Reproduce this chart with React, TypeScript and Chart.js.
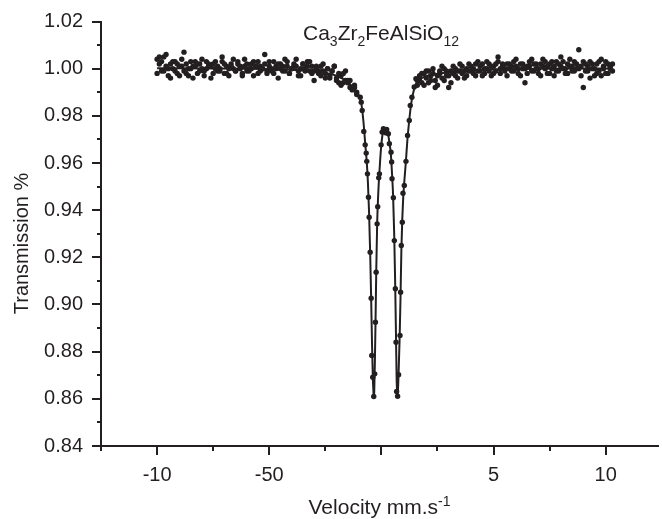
import React, { useEffect, useRef } from 'react';
import { Chart, registerables } from 'chart.js';

Chart.register(...registerables);

const INK = '#231f20';
const FONT = '"Liberation Sans", Arial, Helvetica, sans-serif';

// ---- axis ticks ----
const xMajorTicks = [-10, -5, 0, 5, 10];
const xTickLabels = ['-10', '-50', '', '5', '10'];
const xMinorTicks = [-12.5, -7.5, -2.5, 2.5, 7.5];
const yMajorTicks = [0.84, 0.86, 0.88, 0.9, 0.92, 0.94, 0.96, 0.98, 1.0, 1.02];
const yMinorTicks = [0.85, 0.87, 0.89, 0.91, 0.93, 0.95, 0.97, 0.99, 1.01];

// ---- text ----
const titleParts: [string, number, number][] = [
  ['Ca', 21, 0], ['3', 14, 6], ['Zr', 21, 0], ['2', 14, 6], ['FeAlSiO', 21, 0], ['12', 14, 6],
];
const xTitleParts: [string, number, number][] = [['Velocity mm.s', 21, 0], ['-1', 14, -8]];
const yTitle = 'Transmission %';

// ---- measured points: baseline, left of the doublet ----
const baseVelocityLeft = [
  -10.0, -9.9, -9.8, -9.7, -9.6, -9.5, -9.4, -9.3, -9.2, -9.1,
  -9.0, -8.9, -8.8, -8.7, -8.6, -8.5, -8.4, -8.3, -8.2, -8.1,
  -8.0, -7.9, -7.8, -7.7, -7.6, -7.5, -7.4, -7.3, -7.2, -7.1,
  -7.0, -6.9, -6.8, -6.7, -6.6, -6.5, -6.4, -6.3, -6.2, -6.1,
  -6.0, -5.9, -5.8, -5.7, -5.6, -5.5, -5.4, -5.3, -5.2, -5.1,
  -5.0, -4.9, -4.8, -4.7, -4.6, -4.5, -4.4, -4.3, -4.2, -4.1,
  -4.0, -3.9, -3.8, -3.7, -3.6, -3.5, -3.4, -3.3, -3.2, -3.1,
  -3.0, -2.9, -2.8, -2.7, -2.6, -2.5, -2.4, -2.3, -2.2, -2.1,
  -2.0, -1.9, -1.8, -1.7, -1.6, -1.5, -1.4, -1.3, -1.2, -1.1,
];
const sweepALeft = [
  1.004, 1.002, 0.999, 1.005, 1.001, 0.997, 1.002, 1.000, 1.003, 0.998,
  1.001, 1.004, 0.999, 1.002, 0.997, 1.000, 1.001, 1.003, 0.998, 1.002,
  1.000, 0.999, 1.003, 1.001, 0.996, 1.002, 1.000, 1.001, 0.999, 1.003,
  1.002, 0.998, 1.000, 1.001, 1.004, 0.999, 1.002, 1.000, 0.997, 1.001,
  1.002, 0.999, 1.000, 1.003, 1.001, 0.998, 1.001, 1.000, 1.002, 0.999,
  1.003, 1.000, 0.998, 1.001, 1.002, 1.000, 0.999, 1.004, 1.001, 0.998,
  1.000, 1.002, 1.001, 0.997, 1.000, 1.002, 0.999, 1.001, 1.003, 0.998,
  0.999, 1.000, 0.998, 1.001, 0.999, 0.996, 1.000, 0.997, 0.999, 1.001,
  0.996, 0.994, 0.997, 0.998, 0.995, 0.994, 0.995, 0.991, 0.992, 0.990,
];
const sweepBLeft = [
  0.998, 1.005, 1.003, 0.999, 1.006, 1.000, 0.996, 1.003, 0.999, 1.002,
  0.997, 1.001, 1.007, 0.998, 1.000, 1.003, 0.996, 1.001, 1.002, 0.999,
  1.004, 0.997, 1.000, 1.002, 1.001, 0.998, 1.003, 0.999, 1.000, 1.005,
  0.998, 1.001, 0.997, 1.002, 1.000, 0.999, 1.003, 1.001, 0.998, 1.004,
  0.999, 1.000, 1.002, 0.997, 1.001, 1.003, 0.999, 1.000, 1.006, 0.998,
  1.001, 0.999, 1.003, 1.000, 0.996, 1.002, 1.001, 0.999, 1.003, 0.998,
  1.000, 1.001, 1.004, 0.999, 0.997, 1.002, 1.000, 1.003, 0.999, 1.001,
  0.995, 1.001, 0.999, 0.997, 1.002, 0.998, 1.000, 0.996, 0.999, 1.001,
  0.995, 0.998, 0.993, 0.994, 0.999, 0.995, 0.992, 0.992, 0.993, 0.989,
];

// ---- measured points: baseline, right of the doublet ----
const baseVelocityRight = [
  1.6, 1.7, 1.8, 1.9,
  2.0, 2.1, 2.2, 2.3, 2.4, 2.5, 2.6, 2.7, 2.8, 2.9,
  3.0, 3.1, 3.2, 3.3, 3.4, 3.5, 3.6, 3.7, 3.8, 3.9,
  4.0, 4.1, 4.2, 4.3, 4.4, 4.5, 4.6, 4.7, 4.8, 4.9,
  5.0, 5.1, 5.2, 5.3, 5.4, 5.5, 5.6, 5.7, 5.8, 5.9,
  6.0, 6.1, 6.2, 6.3, 6.4, 6.5, 6.6, 6.7, 6.8, 6.9,
  7.0, 7.1, 7.2, 7.3, 7.4, 7.5, 7.6, 7.7, 7.8, 7.9,
  8.0, 8.1, 8.2, 8.3, 8.4, 8.5, 8.6, 8.7, 8.8, 8.9,
  9.0, 9.1, 9.2, 9.3, 9.4, 9.5, 9.6, 9.7, 9.8, 9.9,
  10.0, 10.1, 10.2, 10.3,
];
const sweepARight = [
  0.995, 0.997, 0.994, 0.998,
  0.996, 0.999, 0.995, 0.998, 0.992, 0.997, 0.999, 0.996, 1.000, 0.997,
  0.992, 0.999, 1.001, 0.997, 0.999, 1.002, 0.998, 0.996, 1.000, 0.999,
  1.001, 0.998, 1.002, 0.999, 1.001, 0.997, 1.000, 1.003, 0.999, 1.001,
  0.998, 1.002, 1.005, 1.000, 1.001, 0.999, 1.002, 1.000, 0.999, 1.003,
  1.001, 0.998, 1.002, 1.000, 0.994, 1.001, 1.003, 0.999, 1.002, 1.000,
  0.998, 1.002, 1.004, 1.000, 1.001, 0.998, 1.003, 1.001, 0.999, 1.002,
  1.005, 1.000, 0.998, 1.002, 1.001, 0.999, 1.003, 1.000, 1.008, 1.001,
  0.992, 1.002, 0.999, 1.003, 1.000, 0.997, 1.002, 0.999, 1.004, 1.000,
  0.998, 1.002, 1.000, 0.999,
];
const sweepBRight = [
  0.993, 0.995, 0.998, 0.993,
  0.999, 0.994, 0.997, 1.000, 0.995, 0.993, 0.998, 1.001, 0.995, 0.999,
  0.997, 0.994, 0.998, 1.000, 0.996, 0.999, 1.001, 0.999, 0.997, 1.002,
  0.999, 1.000, 0.997, 1.003, 0.999, 1.002, 0.998, 1.000, 1.002, 0.997,
  1.001, 0.999, 1.003, 0.998, 1.002, 1.000, 0.997, 1.002, 1.001, 0.999,
  1.004, 1.000, 0.997, 1.002, 1.000, 0.998, 1.001, 1.004, 0.999, 1.002,
  1.000, 0.997, 1.001, 1.003, 0.998, 1.002, 1.000, 0.997, 1.003, 0.999,
  1.001, 1.003, 1.000, 0.998, 1.004, 1.001, 0.999, 1.002, 1.000, 0.997,
  1.003, 0.999, 1.001, 0.996, 1.002, 1.000, 0.998, 1.003, 0.997, 1.001,
  1.003, 0.998, 1.001, 1.002,
];

// ---- measured points inside the quadrupole doublet ----
const dipVelocity = [
  -0.944, -0.9, -0.857, -0.785, -0.723, -0.678, -0.652, -0.621, -0.576, -0.545,
  -0.501, -0.457, -0.43, -0.386, -0.341, -0.297, -0.266, -0.235, -0.191, -0.164,
  -0.12, -0.089, -0.013, 0.031, 0.09, 0.133, 0.185, 0.235, 0.31, 0.355,
  0.43, 0.457, 0.474, 0.532, 0.576, 0.621, 0.652, 0.678, 0.723, 0.767,
  0.829, 0.856, 0.887, 0.931, 0.962, 1.02, 1.095, 1.166, 1.242, 1.286,
  1.361, 1.463, 1.539,
];
const dipTransmission = [
  0.9879, 0.9858, 0.9823, 0.9734, 0.9677, 0.9642, 0.9607, 0.9554, 0.9455, 0.937,
  0.9222, 0.9027, 0.8784, 0.8692, 0.861, 0.8706, 0.8925, 0.9137, 0.9342, 0.9415,
  0.9537, 0.9554, 0.9677, 0.9731, 0.9745, 0.9738, 0.9728, 0.9742, 0.9724, 0.9682,
  0.9646, 0.9604, 0.9533, 0.9453, 0.9271, 0.9067, 0.884, 0.8631, 0.8611, 0.8702,
  0.8869, 0.9052, 0.925, 0.9349, 0.9472, 0.9505, 0.9607, 0.9717, 0.978, 0.9844,
  0.9879, 0.9922, 0.9957,
];

// ---- fitted curve ----
const fitVelocity = [
  -10.0, -8.0, -6.0, -4.0, -3.0, -2.5, -2.0, -1.6, -1.3, -1.1,
  -1.0, -0.9, -0.8, -0.72, -0.65, -0.6, -0.55, -0.5, -0.46, -0.42,
  -0.38, -0.36, -0.34, -0.32, -0.29, -0.26, -0.23, -0.19, -0.15, -0.1,
  -0.05, 0.0, 0.05, 0.12, 0.2, 0.28, 0.35, 0.42, 0.47, 0.52,
  0.57, 0.61, 0.65, 0.68, 0.71, 0.74, 0.77, 0.81, 0.85, 0.89,
  0.93, 0.97, 1.02, 1.09, 1.16, 1.24, 1.31, 1.4, 1.5, 1.65,
  1.9, 2.5, 3.5, 5.0, 7.0, 10.3,
];
const fitTransmission = [
  1.0002, 1.0001, 1.0, 0.9995, 0.9988, 0.9982, 0.997, 0.995, 0.9925, 0.99,
  0.9885, 0.9855, 0.9775, 0.968, 0.96, 0.9515, 0.939, 0.9215, 0.904, 0.884,
  0.868, 0.864, 0.8605, 0.863, 0.876, 0.894, 0.914, 0.934, 0.945, 0.9545,
  0.962, 0.968, 0.972, 0.9738, 0.9742, 0.9732, 0.969, 0.964, 0.956, 0.9465,
  0.93, 0.911, 0.887, 0.868, 0.861, 0.864, 0.872, 0.885, 0.902, 0.923,
  0.936, 0.945, 0.952, 0.9605, 0.97, 0.978, 0.984, 0.989, 0.9925, 0.995,
  0.9965, 0.9978, 0.9988, 0.9996, 1.0, 1.0001,
];

const toPoints = (xs: number[], ys: number[]) => xs.map((x, i) => ({ x, y: ys[i] }));

function drawRich(ctx: CanvasRenderingContext2D, parts: [string, number, number][], x: number, y: number, align: 'left' | 'center') {
  let total = 0;
  for (const [t, s] of parts) {
    ctx.font = `${s}px ${FONT}`;
    total += ctx.measureText(t).width;
  }
  let cx = align === 'center' ? x - total / 2 : x;
  ctx.textAlign = 'left';
  ctx.textBaseline = 'alphabetic';
  for (const [t, s, dy] of parts) {
    ctx.font = `${s}px ${FONT}`;
    ctx.fillText(t, cx, y + dy);
    cx += ctx.measureText(t).width;
  }
}

const decor = {
  id: 'decor',
  afterDraw(chart: any) {
    const ctx: CanvasRenderingContext2D = chart.ctx;
    const xs = chart.scales.x;
    const ys = chart.scales.y;
    const { left, bottom } = chart.chartArea;
    ctx.save();
    ctx.strokeStyle = INK;
    ctx.fillStyle = INK;
    ctx.lineWidth = 2;
    ctx.lineCap = 'butt';
    ctx.beginPath();
    for (const v of yMajorTicks) {
      const p = Math.round(ys.getPixelForValue(v));
      ctx.moveTo(left - 9, p);
      ctx.lineTo(left + 1, p);
    }
    for (const v of yMinorTicks) {
      const p = Math.round(ys.getPixelForValue(v));
      ctx.moveTo(left - 4, p);
      ctx.lineTo(left + 1, p);
    }
    for (const v of xMajorTicks) {
      const p = Math.round(xs.getPixelForValue(v));
      ctx.moveTo(p, bottom - 1);
      ctx.lineTo(p, bottom + 9);
    }
    for (const v of xMinorTicks) {
      const p = Math.round(xs.getPixelForValue(v));
      ctx.moveTo(p, bottom - 1);
      ctx.lineTo(p, bottom + 5);
    }
    ctx.stroke();

    drawRich(ctx, titleParts, 303, 40, 'left');
    drawRich(ctx, xTitleParts, (chart.chartArea.left + chart.chartArea.right) / 2, 514, 'center');

    ctx.translate(28, 243.5);
    ctx.rotate(-Math.PI / 2);
    ctx.font = `20px ${FONT}`;
    ctx.textAlign = 'center';
    ctx.textBaseline = 'alphabetic';
    ctx.fillText(yTitle, 0, 0);
    ctx.restore();
  },
};

export default function App() {
  const ref = useRef<HTMLCanvasElement | null>(null);
  useEffect(() => {
    if (!ref.current) return;
    const dot = { pointRadius: 2.7, pointBackgroundColor: INK, pointBorderWidth: 0, backgroundColor: INK, borderColor: INK, showLine: false, order: 0 };
    const chart = new Chart(ref.current, {
      type: 'scatter',
      data: {
        datasets: [
          { ...dot, data: toPoints(baseVelocityLeft, sweepALeft) },
          { ...dot, data: toPoints(baseVelocityLeft, sweepBLeft) },
          { ...dot, data: toPoints(baseVelocityRight, sweepARight) },
          { ...dot, data: toPoints(baseVelocityRight, sweepBRight) },
          { ...dot, data: toPoints(dipVelocity, dipTransmission) },
          {
            type: 'line',
            data: toPoints(fitVelocity, fitTransmission),
            borderColor: INK,
            borderWidth: 2,
            pointRadius: 0,
            cubicInterpolationMode: 'monotone',
            showLine: true,
            fill: false,
            order: 1,
          } as any,
        ],
      },
      options: {
        responsive: false,
        devicePixelRatio: 1,
        animation: false,
        layout: { padding: { top: 21.5, right: 1, left: 0, bottom: 0 } },
        plugins: { legend: { display: false }, tooltip: { enabled: false }, title: { display: false } },
        scales: {
          x: {
            type: 'linear',
            min: -12.5,
            max: 12.33,
            grid: { display: false, drawTicks: false },
            border: { display: true, color: INK, width: 2 },
            afterBuildTicks: (s: any) => { s.ticks = xMajorTicks.map((v) => ({ value: v })); },
            afterFit: (s: any) => { s.height = 73; s.paddingLeft = 0; s.paddingRight = 0; },
            ticks: {
              autoSkip: false,
              maxRotation: 0,
              padding: 17,
              color: INK,
              font: { family: FONT, size: 20 },
              callback: (v: any) => { const i = xMajorTicks.indexOf(Number(v)); return i >= 0 ? xTickLabels[i] : ''; },
            },
          },
          y: {
            type: 'linear',
            min: 0.84,
            max: 1.02,
            grid: { display: false, drawTicks: false },
            border: { display: true, color: INK, width: 2 },
            afterBuildTicks: (s: any) => { s.ticks = yMajorTicks.map((v) => ({ value: v })); },
            afterFit: (s: any) => { s.width = 101; s.paddingTop = 0; s.paddingBottom = 0; },
            ticks: {
              autoSkip: false,
              padding: 18,
              color: INK,
              font: { family: FONT, size: 20 },
              callback: (v: any) => Number(v).toFixed(2),
            },
          },
        },
      },
      plugins: [decor],
    });
    return () => chart.destroy();
  }, []);
  return (
    <div style={{ position: 'absolute', left: 0, top: 0, width: 662, height: 519, background: '#fff', overflow: 'hidden' }}>
      <canvas ref={ref} width={662} height={519} style={{ display: 'block' }} />
    </div>
  );
}
